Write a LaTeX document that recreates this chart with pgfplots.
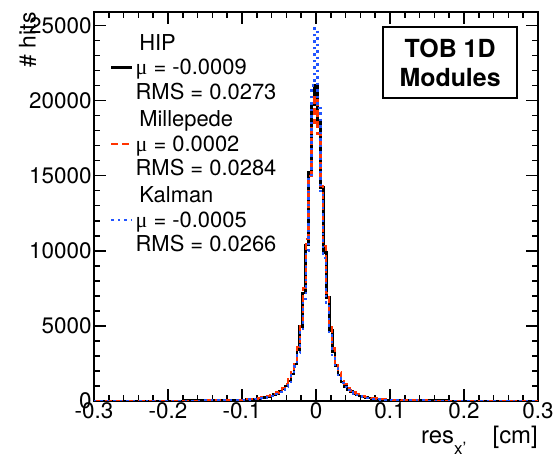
\documentclass[border=0pt]{standalone}
\usepackage{fontspec}
\setmainfont{TeX Gyre Heros}
\newfontfamily\symfont{Liberation Serif}
\usepackage{pgfplots}
\usepackage{pgfplotstable}
\pgfplotsset{compat=1.18}
\definecolor{mpred}{HTML}{FF3300}
\definecolor{kalblue}{HTML}{2255FF}

% left bin edges, counts per bin (last row closes the histogram)
\pgfplotstableread{
x      hip    mp     kal
-0.300 6      7      5
-0.260 9      11     8
-0.220 13     16     12
-0.180 20     24     19
-0.150 30     36     28
-0.130 42     50     40
-0.115 55     66     52
-0.102 68     82     63
-0.098 78     94     73
-0.094 90     108    84
-0.090 104    125    97
-0.086 122    145    113
-0.082 145    168    132
-0.078 170    195    157
-0.074 200    230    187
-0.070 240    275    222
-0.066 285    325    268
-0.062 345    390    325
-0.058 420    470    395
-0.054 510    570    480
-0.050 630    700    595
-0.046 800    890    760
-0.042 1010   1130   960
-0.038 1330   1470   1260
-0.034 1800   1950   1700
-0.030 2450   2600   2300
-0.026 3400   3600   3200
-0.022 4950   5200   4700
-0.018 7200   7500   6800
-0.014 10400  10800  10000
-0.010 15200  15000  14900
-0.006 19700  18500  21000
-0.002 21000  20200  24800
0.002  18600  17800  19500
0.006  14200  14300  14000
0.010  9900   10300  9500
0.014  6900   7200   6500
0.018  4700   5000   4450
0.022  3250   3500   3050
0.026  2350   2550   2200
0.030  1720   1900   1620
0.034  1270   1450   1200
0.038  980    1120   930
0.042  780    880    740
0.046  620    700    590
0.050  500    570    475
0.054  410    470    390
0.058  340    390    320
0.062  280    325    265
0.066  235    275    220
0.070  195    230    185
0.074  165    195    155
0.078  140    168    130
0.082  120    145    112
0.086  100    125    96
0.090  88     108    83
0.094  76     94     72
0.098  66     82     62
0.102  55     66     52
0.115  42     50     40
0.130  30     36     28
0.150  20     24     19
0.180  13     16     12
0.220  9      11     8
0.260  6      7      5
0.300  6      7      5
}\resdata

\begin{document}
\begin{tikzpicture}
\begin{axis}[
  scale only axis,
  width=444bp, height=389bp,
  xmin=-0.3, xmax=0.3, ymin=0, ymax=25900,
  xtick={-0.3,-0.2,-0.1,0,0.1,0.2,0.3},
  ytick={0,5000,10000,15000,20000,25000},
  minor tick num=4,
  tick align=inside,
  major tick length=12bp, minor tick length=6bp,
  every tick/.style={black, line width=1.5bp},
  axis line style={line width=2.5bp},
  scaled ticks=false,
  /pgf/number format/assume math mode=true,
  /pgf/number format/1000 sep={},
  ticklabel style={font=\fontsize{22.5}{26}\selectfont},
  xticklabel style={yshift=2bp},
  yticklabel style={xshift=1bp},
  xlabel={res\raisebox{-0.95ex}{\fontsize{17}{17}\selectfont x'}\hspace{1.1em}[cm]},
  xlabel style={at={(rel axis cs:1,-0.108)}, anchor=base east, inner sep=0pt,
    font=\fontsize{24}{28}\selectfont},
  ylabel={\# hits},
  ylabel style={at={(rel axis cs:-0.15,1.008)}, anchor=east,
    font=\fontsize{23}{26}\selectfont},
  legend style={at={(rel axis cs:0.036,0.948)}, anchor=north west,
    draw=none, fill=none, inner sep=0pt, row sep=6bp,
    font=\fontsize{22}{24.5}\selectfont, cells={align=left}},
  legend image code/.code={\draw[#1] (0bp,0bp) -- (21bp,0bp);},
]
\addplot[const plot, black, line width=2.5bp] table[x=x, y=hip] {\resdata};
\addlegendentry{\,HIP\\{\symfont μ} = -0.0009\\RMS = 0.0273}
\addplot[const plot, mpred, line width=2.2bp, dash pattern=on 7bp off 4bp] table[x=x, y=mp] {\resdata};
\addlegendentry{\,Millepede\\{\symfont μ} = 0.0002\\RMS = 0.0284}
\addplot[const plot, kalblue, line width=2.2bp, dash pattern=on 2.5bp off 4bp] table[x=x, y=kal] {\resdata};
\addlegendentry{\,Kalman\\{\symfont μ} = -0.0005\\RMS = 0.0266}

\node[draw, line width=2bp, fill=white, minimum width=134bp, minimum height=71bp,
  align=center, inner sep=0pt, font=\bfseries\fontsize{25}{29}\selectfont]
  at (rel axis cs:0.802,0.870) {TOB 1D\\Modules};

\coordinate (bbll) at (rel axis cs:-0.2117,-0.149);
\coordinate (bbur) at (rel axis cs:1.0473,1.0308);
\end{axis}
\pgfresetboundingbox
\path[use as bounding box] (bbll) rectangle (bbur);
\end{tikzpicture}
\end{document}
